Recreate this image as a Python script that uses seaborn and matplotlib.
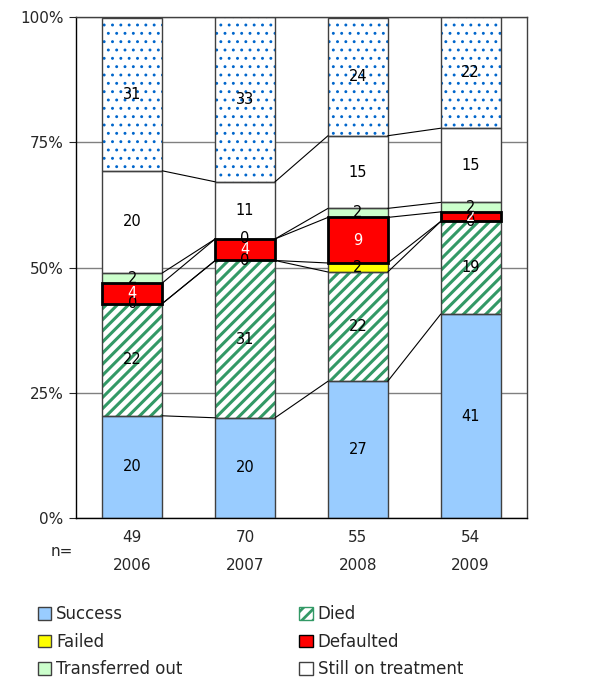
import numpy as np
import pandas as pd
import seaborn as sns
import matplotlib as mpl
from matplotlib import pyplot as plt
from matplotlib.patches import Patch

sns.set_style("white")
mpl.rcParams["font.family"] = ["DejaVu Sans"]
mpl.rcParams["hatch.linewidth"] = 2.0

years = ["2006", "2007", "2008", "2009"]
n_cases = [49, 70, 55, 54]

# share of cases (%) per outcome
success = [20.4, 20.0, 27.3, 40.7]
died = [22.4, 31.4, 21.8, 18.5]
failed = [0.0, 0.0, 1.8, 0.0]
defaulted = [4.1, 4.3, 9.1, 1.9]
transferred = [2.0, 0.0, 1.8, 1.9]
still_on = [20.4, 11.4, 14.5, 14.8]
not_evaluated = [30.6, 32.9, 23.6, 22.2]

outcomes = ["Success", "Died", "Failed", "Defaulted",
            "Transferred out", "Still on treatment", "Not evaluated"]
series = [success, died, failed, defaulted, transferred, still_on, not_evaluated]

FACE = {
    "Success": "#99CCFF",
    "Died": "white",
    "Failed": "#FFFF00",
    "Defaulted": "#FF0000",
    "Transferred out": "#CCFFCC",
    "Still on treatment": "white",
    "Not evaluated": "white",
}
# hatch pattern, hatch colour, hatch line width
HATCH = {
    "Died": ("///", "#339966", 2.2),
    "Not evaluated": ("..", "#0066CC", 0.9),
}
BAR_W = 0.53

rows = []
for name, vals in zip(outcomes, series):
    for yr, v in zip(years, vals):
        rows.append({"outcome": name, "year": yr, "pct": v})
df = pd.DataFrame(rows)
df["bottom"] = df.groupby("year")["pct"].cumsum() - df["pct"]

fig = plt.figure(figsize=(5.9, 6.82), dpi=100)
ax = fig.add_axes([76 / 590, 1 - 518 / 682, 451 / 590, 501 / 682])

# fills (and hatching)
for name in outcomes:
    sub = df[df["outcome"] == name].set_index("year").loc[years]
    hatch, hcol, hlw = HATCH.get(name, (None, FACE[name], 1.0))
    with mpl.rc_context({"hatch.linewidth": hlw}):
        sns.barplot(data=sub.reset_index(), x="year", y="pct", order=years,
                    color=FACE[name], saturation=1, width=BAR_W,
                    bottom=sub["bottom"].values, hatch=hatch, edgecolor=hcol,
                    linewidth=0, errorbar=None, ax=ax, zorder=2)

# outlines
for name in outcomes:
    sub = df[df["outcome"] == name].set_index("year").loc[years]
    red = name == "Defaulted"
    sns.barplot(data=sub.reset_index(), x="year", y="pct", order=years,
                color="black" if red else "#404040", fill=False, width=BAR_W,
                bottom=sub["bottom"].values, linewidth=2 if red else 1,
                errorbar=None, ax=ax, zorder=4 if red else 3)

# series lines joining the segment tops
for name in outcomes[:-1]:
    sub = df[df["outcome"] == name].set_index("year").loc[years]
    tops = (sub["bottom"] + sub["pct"]).values
    for i in range(len(years) - 1):
        ax.plot([i + BAR_W / 2, i + 1 - BAR_W / 2], [tops[i], tops[i + 1]],
                color="black", lw=0.8, zorder=3.5)

# value labels
for name in outcomes:
    sub = df[df["outcome"] == name].set_index("year").loc[years]
    for i, yr in enumerate(years):
        v = sub.loc[yr, "pct"]
        ax.text(i, sub.loc[yr, "bottom"] + v / 2, f"{int(v + 0.5)}",
                ha="center", va="center", fontsize=10.5,
                color="white" if name == "Defaulted" else "black", zorder=6)

ax.set_xlim(-0.5, len(years) - 0.5)
ax.set_ylim(0, 100)
ax.set_yticks([0, 25, 50, 75, 100])
ax.set_yticklabels([f"{v}%" for v in [0, 25, 50, 75, 100]], fontsize=11)
ax.yaxis.grid(True, color="#808080", lw=1, zorder=0)
ax.set_axisbelow(True)
ax.set_xticks(range(len(years)))
ax.set_xticklabels([f"{n}\n{y}" for n, y in zip(n_cases, years)],
                   fontsize=11, linespacing=2.0)
ax.tick_params(axis="x", length=0, pad=9)
ax.tick_params(axis="y", length=5, direction="out", left=True, pad=4)
ax.set_xlabel("")
ax.set_ylabel("")
for side in ["left", "bottom"]:
    ax.spines[side].set_color("black")
for side in ["top", "right"]:
    ax.spines[side].set_color("#404040")
for s in ax.spines.values():
    s.set_linewidth(1)
    s.set_visible(True)

fig.text(62 / 590, 1 - 551 / 682, "n=", ha="center", va="center", fontsize=11)

handles = []
for name in ["Success", "Failed", "Transferred out",
             "Died", "Defaulted", "Still on treatment"]:
    hatch = HATCH[name][0] if name in HATCH else None
    if name == "Defaulted":
        edge = "black"
    elif name == "Died":
        edge = "#339966"
    else:
        edge = "#404040"
    handles.append(Patch(facecolor=FACE[name], hatch=hatch, edgecolor=edge,
                         lw=1, label=name))
fig.legend(handles=handles, ncol=2, loc="upper left",
           bbox_to_anchor=(38 / 590, 1 - 605 / 682), frameon=False,
           fontsize=12, handlelength=0.8, handleheight=0.8,
           handletextpad=0.3, labelspacing=0.58, columnspacing=7.0,
           borderpad=0, borderaxespad=0)

plt.savefig("out.png", dpi=100)
